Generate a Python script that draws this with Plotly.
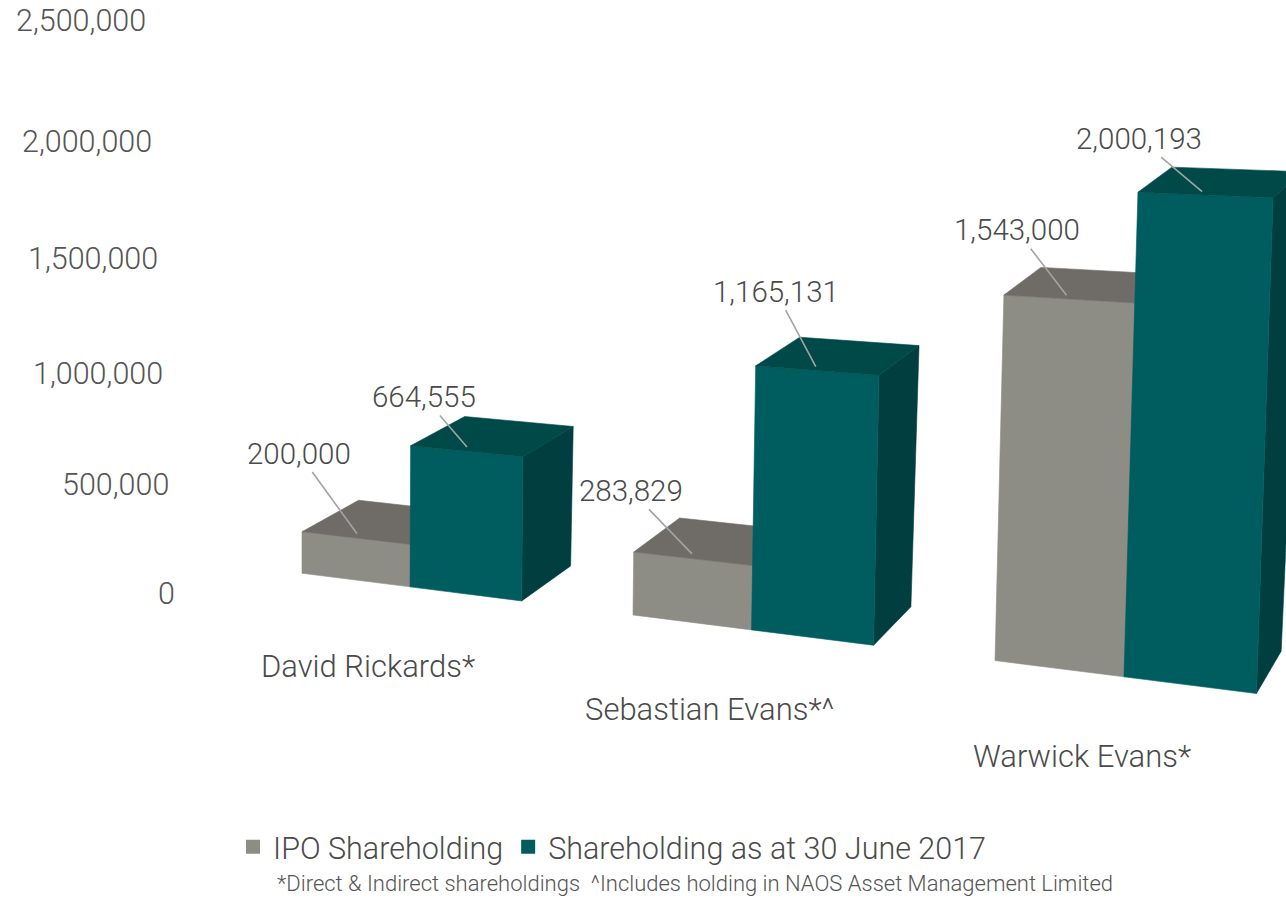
import plotly.graph_objects as go

# ---------------- data ----------------
categories = ["David Rickards*", "Sebastian Evans*^", "Warwick Evans*"]
series_names = ["IPO Shareholding", "Shareholding as at 30 June 2017"]
ipo_values = [200000, 283829, 1543000]
june2017_values = [664555, 1165131, 2000193]
y_ticks = [0, 500000, 1000000, 1500000, 2000000, 2500000]
y_tick_labels = ["0", "500,000", "1,000,000", "1,500,000", "2,000,000", "2,500,000"]
footnote = "*Direct &amp; Indirect shareholdings  ^Includes holding in NAOS Asset Management Limited"

# ---------------- style ----------------
W, H = 1286, 900
FONT = "Roboto"
TXT = "#4a4a4a"
GRAY = dict(front="#8d8d86", top="#6f6c68", side="#5e5c58")
TEAL = dict(front="#005d5f", top="#004949", side="#003e3f")
GROUP_W = 0.674          # group width in category units (two bars)
LABEL_FRAC, LABEL_DEPTH = 0.45, 0.12
LABEL_OFFSETS = [(-58, -80), (-43, -50), (-61, -63), (-40, -75), (-50, -65), (-63, -53)]
CAT_OFFSET = (-42, 80)


# pseudo-3D perspective projection (category position, value, depth) -> screen
def u_of(xw):
    return 302 + 331 * xw + 15.5 * xw * (xw - 1)


def floor_y(u):
    return 573 + 0.126 * (u - 300)


def kscale(u):
    return 0.00021 + 4.2e-8 * (u - 355)


def project(xw, v, w):
    u = u_of(xw)
    h = v * kscale(u)
    lean = 3.5e-5 * (u - 300) * h
    dxd = 49 - 0.033 * (u - 520) + 0.01 * h
    dyd = -35 - 0.01 * (u - 520) + 0.033 * h
    return u + lean + w * dxd, floor_y(u) - h + w * dyd


def tick_y(v):
    m = v / 1e6
    return 593 - (214 * m + 6 * m * m)


def poly(fig, pts, color):
    xs = [p[0] for p in pts] + [pts[0][0]]
    ys = [p[1] for p in pts] + [pts[0][1]]
    fig.add_trace(go.Scatter(x=xs, y=ys, mode="lines", fill="toself", fillcolor=color,
                             line=dict(color=color, width=0.6), hoverinfo="skip",
                             showlegend=False))


fig = go.Figure()
annotations = []
label_i = 0
for gi, cat in enumerate(categories):
    bars = [(gi, gi + GROUP_W / 2, ipo_values[gi], GRAY),
            (gi + GROUP_W / 2, gi + GROUP_W, june2017_values[gi], TEAL)]
    for x0, x1, v, col in bars:
        front = [project(x0, 0, 0), project(x1, 0, 0), project(x1, v, 0), project(x0, v, 0)]
        top = [project(x0, v, 0), project(x1, v, 0), project(x1, v, 1), project(x0, v, 1)]
        side = [project(x1, 0, 0), project(x1, 0, 1), project(x1, v, 1), project(x1, v, 0)]
        poly(fig, side, col["side"])
        poly(fig, front, col["front"])
        poly(fig, top, col["top"])
    for x0, x1, v, col in bars:
        px, py = project(x0 + LABEL_FRAC * (x1 - x0), v, LABEL_DEPTH)
        ax, ay = LABEL_OFFSETS[label_i]
        label_i += 1
        annotations.append(dict(x=px, y=py, xref="x", yref="y", text=f"{v:,}",
                                showarrow=True, arrowhead=0, arrowwidth=1.6,
                                arrowcolor="#a3a3a3", ax=ax, ay=ay,
                                font=dict(family=FONT, size=29.5, color=TXT, weight=300)))
    # category label
    cx, cy = project(gi + GROUP_W / 2, 0, 0)
    annotations.append(dict(x=cx + CAT_OFFSET[0], y=cy + CAT_OFFSET[1], xref="x", yref="y",
                            text=cat, showarrow=False, xanchor="center", yanchor="middle",
                            font=dict(family=FONT, size=31, color=TXT, weight=300)))

# value axis tick labels (perspective wall)
for v, lab in zip(y_ticks, y_tick_labels):
    annotations.append(dict(x=177 - 11.6 * v / 1e6, y=tick_y(v), xref="x", yref="y",
                            text=lab, showarrow=False, xanchor="right", yanchor="middle",
                            font=dict(family=FONT, size=30.5, color="#555555", weight=300)))

annotations.append(dict(x=695, y=883, xref="x", yref="y", text=footnote, showarrow=False,
                        xanchor="center", yanchor="middle",
                        font=dict(family=FONT, size=22, color="#555555", weight=300)))

# legend entries
for name, col in zip(series_names, [GRAY, TEAL]):
    fig.add_trace(go.Scatter(x=[None], y=[None], mode="markers", name=name,
                             marker=dict(symbol="square", size=14, color=col["front"])))

fig.update_layout(
    width=W, height=H,
    margin=dict(l=0, r=0, t=0, b=0),
    paper_bgcolor="white", plot_bgcolor="white",
    xaxis=dict(range=[0, W], visible=False, fixedrange=True),
    yaxis=dict(range=[H, 0], visible=False, fixedrange=True),
    annotations=annotations,
    showlegend=True,
    legend=dict(orientation="h", x=233 / W, xanchor="left", y=1 - 847 / H, yanchor="middle",
                bgcolor="rgba(0,0,0,0)", font=dict(family=FONT, size=30.5, color=TXT, weight=300),
                itemwidth=30, tracegroupgap=0),
    font=dict(family=FONT, weight=300),
)

fig.write_html("out.html")
